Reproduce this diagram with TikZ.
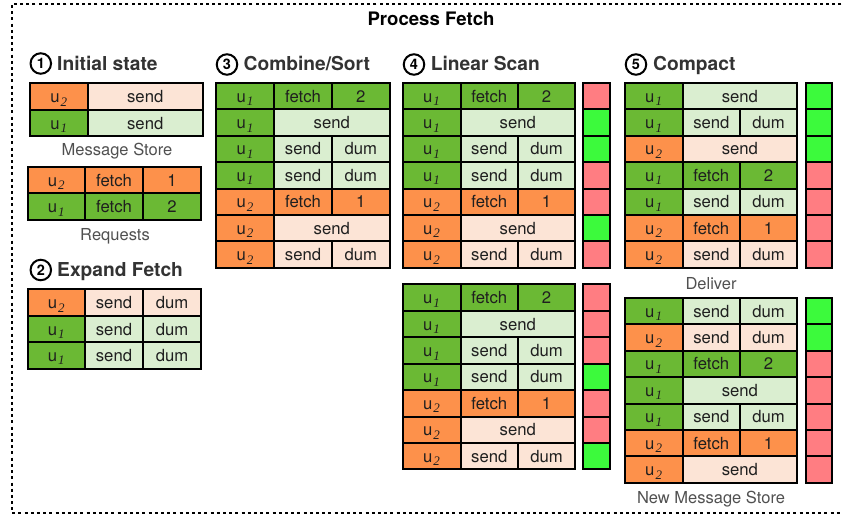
\documentclass[tikz,border=0pt]{standalone}
\usepackage{fontspec}
\setmainfont{TeX Gyre Heros}
\newfontfamily\subfont{Liberation Serif}

\definecolor{gdark}{HTML}{6BB934}
\definecolor{glight}{HTML}{DAEED0}
\definecolor{odark}{HTML}{FD914B}
\definecolor{olight}{HTML}{FCE4D6}
\definecolor{flagg}{HTML}{3CFA3C}
\definecolor{flagr}{HTML}{FF7D82}
\definecolor{inkgray}{HTML}{333333}
\definecolor{labelgray}{HTML}{505050}

% user id with an italic serif subscript
\newcommand\usub[1]{u\kern1pt\raisebox{-0.4ex}{\fontsize{13}{13}\selectfont\subfont\itshape #1}}

\newcommand\rh{26.4}
\newcommand\setcols[4]{\def\xa{#1}\def\xb{#2}\def\xc{#3}\def\xd{#4}}
\newcommand\setflags[2]{\def\fa{#1}\def\fb{#2}}

% one table cell: name, fill, left, right, top, text
\newcommand\cellat[6]{%
  \node[cellbox,fill=#2,minimum width={(#4-#3)*1pt},minimum height={\rh*1pt}]
    (#1) at ({(#3+#4)/2},{#5+\rh/2}) {#6};}
% row kinds: fetch request, plain send, send with dummy
\newcommand\rowF[5]{%
  \cellat{#1-u}{#3dark}{\xa}{\xb}{#2}{\usub{#4}}
  \cellat{#1-k}{#3dark}{\xb}{\xc}{#2}{fetch}
  \cellat{#1-n}{#3dark}{\xc}{\xd}{#2}{#5}}
\newcommand\rowS[4]{%
  \cellat{#1-u}{#3dark}{\xa}{\xb}{#2}{\usub{#4}}
  \cellat{#1-s}{#3light}{\xb}{\xd}{#2}{send}}
\newcommand\rowSD[4]{%
  \cellat{#1-u}{#3dark}{\xa}{\xb}{#2}{\usub{#4}}
  \cellat{#1-s}{#3light}{\xb}{\xc}{#2}{send}
  \cellat{#1-d}{#3light}{\xc}{\xd}{#2}{dum}}
\newcommand\flagat[3]{\cellat{#1}{flag#3}{\fa}{\fb}{#2}{}}

\begin{document}
\begin{tikzpicture}[x=1pt,y=-1pt,
  cellbox/.style={draw=black,line width=2pt,inner sep=0pt,outer sep=0pt,
    font=\fontsize{16.7}{18}\selectfont,text height=12pt,text depth=0pt,
    text=black!88},
  frame/.style={line width=2pt,dash pattern=on 3pt off 3.2pt},
  heading/.style={font=\bfseries\fontsize{19.2}{21}\selectfont,text=inkgray,
    inner sep=0pt,anchor=base west},
  numcirc/.style={circle,draw=black,line width=2pt,minimum size=20.5pt,inner sep=0pt,
    font=\bfseries\fontsize{14.5}{14.5}\selectfont},
  caption/.style={font=\fontsize{16.5}{18}\selectfont,text=labelgray,inner sep=0pt}]
\useasboundingbox (0,0) rectangle (843,518);

% dotted frame around the whole step
\coordinate (ftr) at (860,4);
\coordinate (ftl) at (11.7,4);
\coordinate (fbl) at (11.7,513);
\coordinate (fbr) at (860,513);
\draw[frame] (ftr) -- (ftl) -- (fbl) -- (fbr);

\node[font=\bfseries\fontsize{18.6}{20}\selectfont,inner sep=0pt,anchor=base]
  (title) at (431,26) {Process Fetch};

% ---- 1: initial state
\node[numcirc] (c1) at (40.8,63.5) {1};
\node[heading] (h1) at (57,70.7) {Initial state};
\setcols{29.5}{88}{145}{202.5}
\rowS{ms1}{83.5}{o}{2}
\rowS{ms2}{83.5+\rh}{g}{1}
\node[caption] (lms) at (117,151.5) {Message Store};
\setcols{27.5}{85}{143}{201}
\rowF{rq1}{167}{o}{2}{1}
\rowF{rq2}{167+\rh}{g}{1}{2}
\node[caption] (lrq) at (115,236) {Requests};

% ---- 2: expand fetch
\node[numcirc] (c2) at (40.8,270) {2};
\node[heading] (h2) at (57,276.5) {Expand Fetch};
\rowSD{ex1}{289.5}{o}{2}
\rowSD{ex2}{289.5+\rh}{g}{1}
\rowSD{ex3}{289.5+2*\rh}{g}{1}

% ---- 3: combine and sort
\node[numcirc] (c3) at (227,64.5) {3};
\node[heading] (h3) at (243.5,70.7) {Combine/Sort};
\setcols{216}{274}{332}{389.5}
\rowF {cs1}{83}{g}{1}{2}
\rowS {cs2}{83+\rh}{g}{1}
\rowSD{cs3}{83+2*\rh}{g}{1}
\rowSD{cs4}{83+3*\rh}{g}{1}
\rowF {cs5}{83+4*\rh}{o}{2}{1}
\rowS {cs6}{83+5*\rh}{o}{2}
\rowSD{cs7}{83+6*\rh}{o}{2}

% ---- 4: linear scan, two passes
\node[numcirc] (c4) at (414,64.5) {4};
\node[heading] (h4) at (430.7,70.7) {Linear Scan};
\setcols{402.5}{460.5}{518}{575}
\setflags{583}{609.5}
\rowF {la1}{83}{g}{1}{2}
\rowS {la2}{83+\rh}{g}{1}
\rowSD{la3}{83+2*\rh}{g}{1}
\rowSD{la4}{83+3*\rh}{g}{1}
\rowF {la5}{83+4*\rh}{o}{2}{1}
\rowS {la6}{83+5*\rh}{o}{2}
\rowSD{la7}{83+6*\rh}{o}{2}
\flagat{lf1}{83}{r}
\flagat{lf2}{83+\rh}{g}
\flagat{lf3}{83+2*\rh}{g}
\flagat{lf4}{83+3*\rh}{r}
\flagat{lf5}{83+4*\rh}{r}
\flagat{lf6}{83+5*\rh}{g}
\flagat{lf7}{83+6*\rh}{r}

\rowF {lb1}{284.5}{g}{1}{2}
\rowS {lb2}{284.5+\rh}{g}{1}
\rowSD{lb3}{284.5+2*\rh}{g}{1}
\rowSD{lb4}{284.5+3*\rh}{g}{1}
\rowF {lb5}{284.5+4*\rh}{o}{2}{1}
\rowS {lb6}{284.5+5*\rh}{o}{2}
\rowSD{lb7}{284.5+6*\rh}{o}{2}
\flagat{mf1}{284.5}{r}
\flagat{mf2}{284.5+\rh}{r}
\flagat{mf3}{284.5+2*\rh}{r}
\flagat{mf4}{284.5+3*\rh}{g}
\flagat{mf5}{284.5+4*\rh}{r}
\flagat{mf6}{284.5+5*\rh}{r}
\flagat{mf7}{284.5+6*\rh}{g}

% ---- 5: compact into deliver / new message store
\node[numcirc] (c5) at (636,64.5) {5};
\node[heading] (h5) at (653,70.7) {Compact};
\setcols{624.5}{682.7}{740}{797}
\setflags{806}{832}
\rowS {da1}{83}{g}{1}
\rowSD{da2}{83+\rh}{g}{1}
\rowS {da3}{83+2*\rh}{o}{2}
\rowF {da4}{83+3*\rh}{g}{1}{2}
\rowSD{da5}{83+4*\rh}{g}{1}
\rowF {da6}{83+5*\rh}{o}{2}{1}
\rowSD{da7}{83+6*\rh}{o}{2}
\flagat{df1}{83}{g}
\flagat{df2}{83+\rh}{g}
\flagat{df3}{83+2*\rh}{g}
\flagat{df4}{83+3*\rh}{r}
\flagat{df5}{83+4*\rh}{r}
\flagat{df6}{83+5*\rh}{r}
\flagat{df7}{83+6*\rh}{r}
\node[caption] (ldel) at (711,283.5) {Deliver};

\rowSD{nm1}{298}{g}{1}
\rowSD{nm2}{298+\rh}{o}{2}
\rowF {nm3}{298+2*\rh}{g}{1}{2}
\rowS {nm4}{298+3*\rh}{g}{1}
\rowSD{nm5}{298+4*\rh}{g}{1}
\rowF {nm6}{298+5*\rh}{o}{2}{1}
\rowS {nm7}{298+6*\rh}{o}{2}
\flagat{nf1}{298}{g}
\flagat{nf2}{298+\rh}{g}
\flagat{nf3}{298+2*\rh}{r}
\flagat{nf4}{298+3*\rh}{r}
\flagat{nf5}{298+4*\rh}{r}
\flagat{nf6}{298+5*\rh}{r}
\flagat{nf7}{298+6*\rh}{r}
\node[caption] (lnew) at (711,499) {New Message Store};
\end{tikzpicture}
\end{document}
